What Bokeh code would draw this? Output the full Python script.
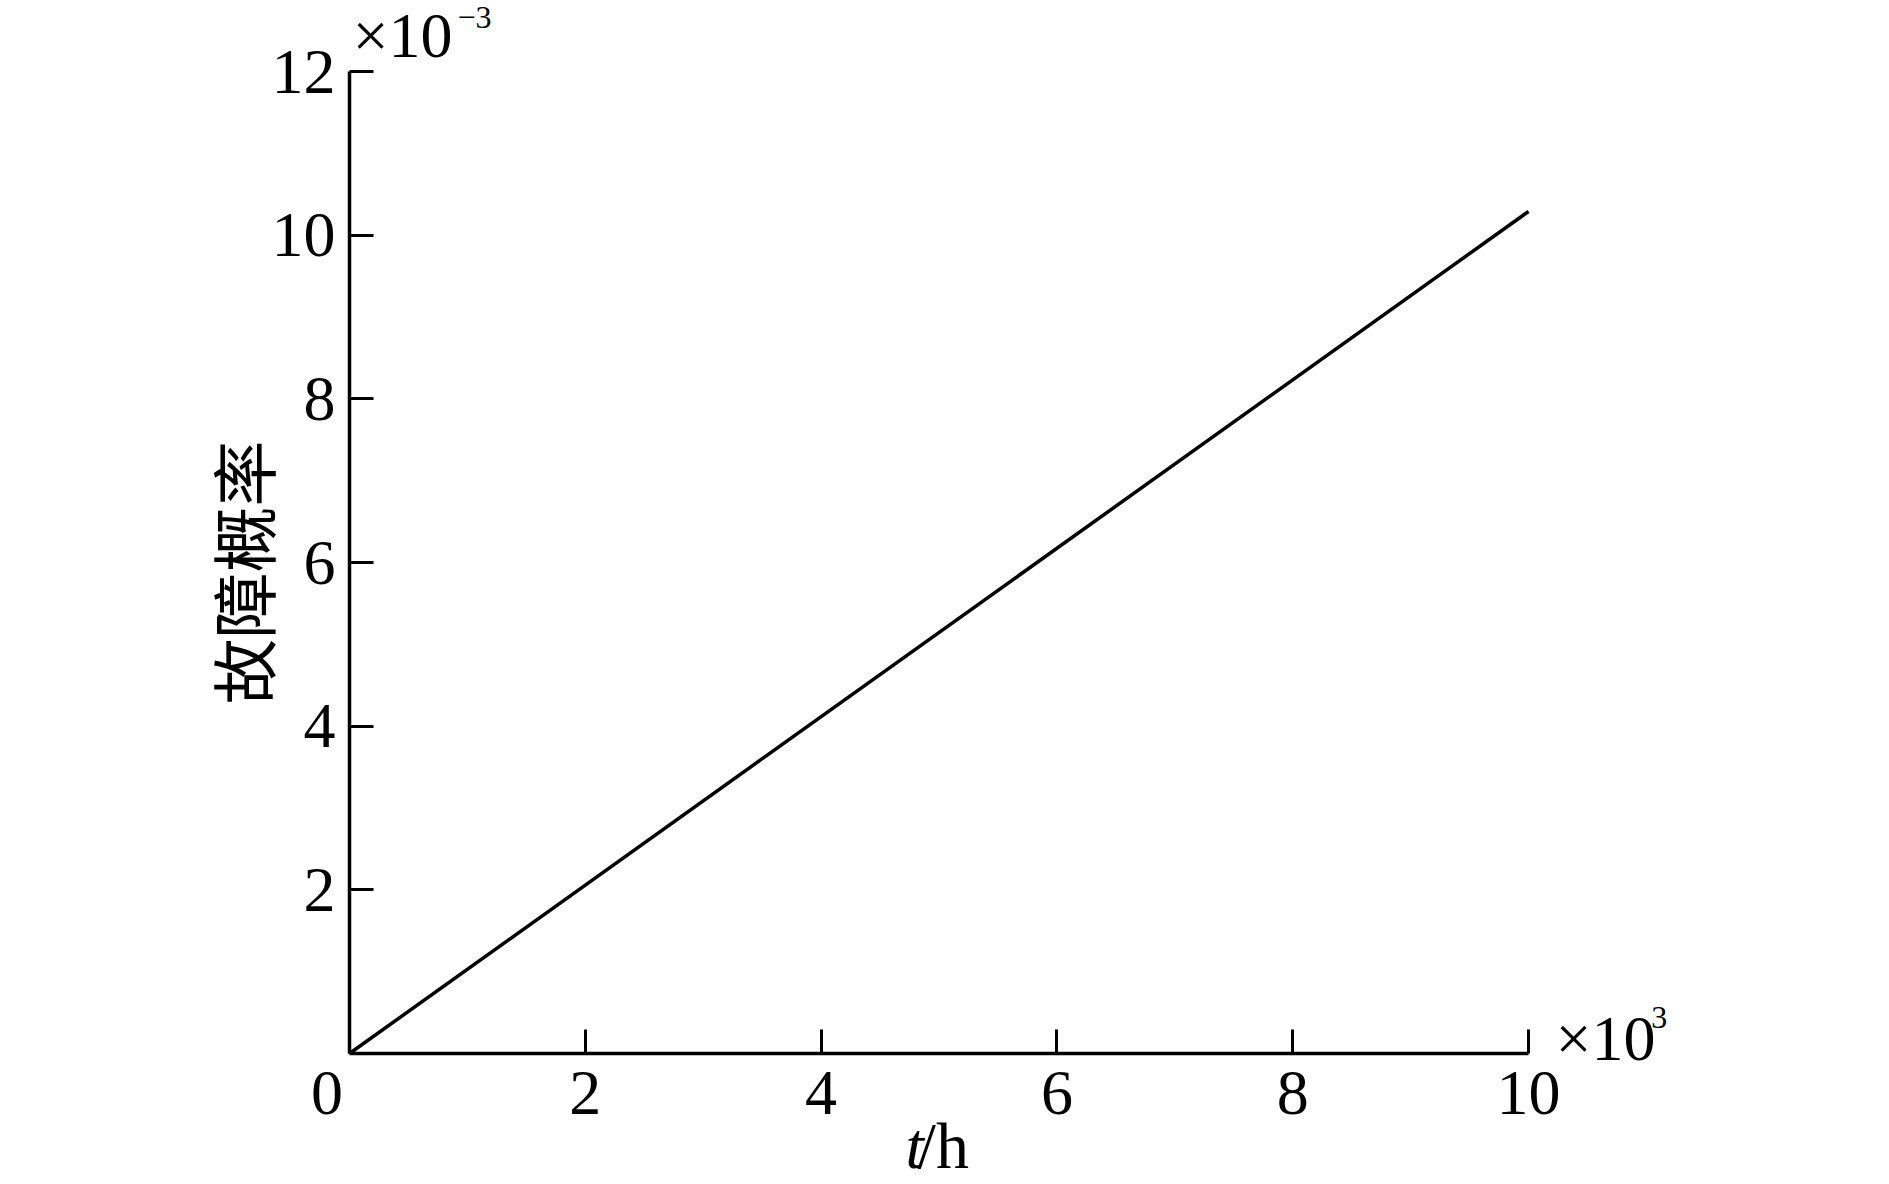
import math
from bokeh.plotting import figure
from bokeh.models import FixedTicker, Label, Range1d
from bokeh.embed import file_html
from bokeh.resources import INLINE

# data (t in 10^3 h, probability in 10^-3)
t_vals = [0, 10]
p_vals = [0, 10.29]
x_ticks = [0, 2, 4, 6, 8, 10]
y_ticks = [2, 4, 6, 8, 10, 12]

SERIF = "Liberation Serif"
CJK = "Noto Sans CJK SC"

W, H = 1873, 1184
p = figure(output_backend="svg", toolbar_location=None,
           width=W, height=H,
           min_border=0, min_border_left=0, min_border_right=0,
           min_border_top=0, min_border_bottom=0,
           x_range=Range1d(-2.960, 12.926), y_range=Range1d(-1.601, 12.868))
p.outline_line_color = None
p.xgrid.grid_line_color = None
p.ygrid.grid_line_color = None

p.line(t_vals, p_vals, line_color="black", line_width=3.5)

for ax in (p.xaxis[0], p.yaxis[0]):
    ax.fixed_location = 0
    ax.axis_line_width = 3.5
    ax.axis_line_color = "black"
    ax.major_tick_line_width = 3
    ax.major_tick_line_color = "black"
    ax.major_tick_in = 24
    ax.major_tick_out = 0
    ax.minor_tick_line_color = None
    ax.major_label_text_font = SERIF
    ax.major_label_text_font_size = "64px"
    ax.major_label_text_color = "black"

p.xaxis.bounds = (0, 10)
p.yaxis.bounds = (0, 12)
p.xaxis.ticker = FixedTicker(ticks=x_ticks)
p.xaxis.major_label_overrides = {0: "0\u2002\u2009"}
p.xaxis.major_label_standoff = 4
p.yaxis.ticker = FixedTicker(ticks=y_ticks)
p.yaxis.major_label_standoff = 14

def lab(x, y, text, size, style="normal", font=SERIF, angle=0.0,
        align="left"):
    p.add_layout(Label(x=x, y=y, text=text, text_font=font,
                       text_font_size=size, text_font_style=style,
                       text_color="black", text_baseline="middle",
                       text_align=align, angle=angle))

# y axis label
lab(-0.916, 5.878, "故障概率", "66px", font=CJK, angle=math.pi / 2,
    align="center")

# exponent markers
lab(0.025, 12.435, "×10", "64px")
lab(0.916, 12.66, "−3", "32px")
lab(10.229, 0.178, "×10", "64px")
lab(11.04, 0.437, "3", "32px")

# x axis label t/h
lab(4.716, -1.12, "t", "66px", style="italic")
lab(4.818, -1.12, "/h", "66px")

open("out.html", "w").write(file_html(p, INLINE))
